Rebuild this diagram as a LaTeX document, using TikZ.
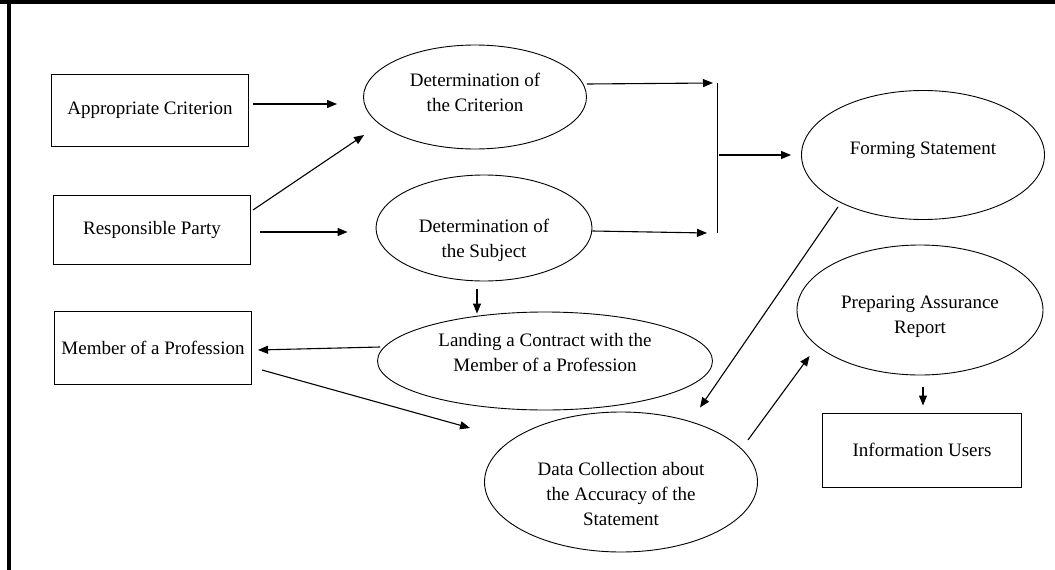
\documentclass[tikz,border=0pt]{standalone}
\usepackage{fontspec}
\setmainfont{Liberation Serif}
\usepackage{tikz}
\usepackage{xcolor}
\usetikzlibrary{shapes.geometric, arrows.meta}
\tikzstyle{party} = [rectangle, minimum width=197pt, minimum height=72pt, text centered, draw=black, line width=1pt]
\tikzstyle{stage} = [ellipse, inner sep=0pt, align=center, draw=black, line width=0.9pt]
\tikzstyle{arrow} = [line width=1.1pt, -{Triangle[length=10pt,width=8pt]}]
\newcommand{\padtop}[1]{\rule{0pt}{#1}}
\newcommand{\padbot}[1]{\rule[-#1]{0pt}{#1}}

\begin{document}
\begin{tikzpicture}[x=1pt, y=-1pt, font=\fontsize{19}{25}\selectfont]
    \useasboundingbox (0,0) rectangle (1055,570);
    \draw[line width=3.5pt] (0,1.75) -- (1055,1.75);
    \draw[line width=4pt] (9,0) -- (9,570);

    \node (party1) at (150,110) [party]{Appropriate Criterion};
    \node (party2) [party, below of=party1, node distance=120pt, xshift=2pt, minimum height=69pt]{Responsible Party};
    \node (party3) [party, below of=party2, node distance=118pt, xshift=1pt, minimum height=73pt]{Member of a Profession};
    \node (step1) [stage, right of=party1, node distance=325pt, yshift=13pt, minimum width=223pt, minimum height=104pt]{Determination of\\the Criterion\padbot{10pt}};
    \node (step2) [stage, right of=party2, node distance=332pt, yshift=2pt, minimum width=216pt, minimum height=106pt]{\padtop{39pt}Determination of\\the Subject};
    \node (step3) [stage, right of=party3, node distance=392pt, yshift=-13pt, minimum width=335pt, minimum height=98pt]{Landing a Contract with the\\Member of a Profession\padbot{18pt}};
    \node (step4) [stage, below of=step3, node distance=121pt, xshift=76pt, minimum width=273pt, minimum height=140pt]{\padtop{37pt}Data Collection about\\the Accuracy of the\\Statement};
    \node (step5) [stage, right of=step1, node distance=448pt, yshift=-58pt, minimum width=243pt, minimum height=129pt]{Forming Statement\padbot{14pt}};
    \node (step6) [stage, below of=step5, node distance=155pt, xshift=-3pt, minimum width=246pt, minimum height=130pt]{\padtop{27pt}Preparing Assurance\\Report};
    \node (party4) [party, below of=step6, node distance=140pt, xshift=2pt, minimum width=199pt, minimum height=74pt]{Information Users};

    \coordinate (join1) at (717,83);
    \coordinate (join2) at (717,233);
    \coordinate (join3) at (717,155);
    \draw[line width=1pt] (join1) -- (join2);

    \draw[arrow] ([xshift=4pt,yshift=6pt]party1.east) -- ([xshift=-26pt,yshift=-7pt]step1.west);
    \draw[arrow] ([xshift=2pt,yshift=20pt]party2.east) -- ([xshift=1pt,yshift=-38pt]step1.west);
    \draw[arrow] ([xshift=9pt,yshift=-2pt]party2.east) -- ([xshift=-28pt,yshift=-4pt]step2.west);
    \draw[arrow] ([yshift=13pt]step1.east) -- ([xshift=-4pt]join1);
    \draw[arrow] ([yshift=-3pt]step2.east) -- ([xshift=-10pt]join2);
    \draw[arrow] ([xshift=2pt]join3) -- ([xshift=-10pt]step5.west);
    \draw[arrow] ([xshift=-7pt,yshift=-8pt]step2.south) -- ([xshift=-68pt,yshift=-2pt]step3.north);
    \draw[arrow] ([xshift=3pt,yshift=14pt]step3.west) -- ([xshift=6pt,yshift=-2pt]party3.east);
    \draw[arrow] ([xshift=10pt,yshift=-22pt]party3.east) -- ([xshift=-14pt,yshift=54pt]step4.west);
    \draw[arrow] ([xshift=-85pt,yshift=13pt]step5.south) -- ([xshift=79pt,yshift=4pt]step4.north);
    \draw[arrow] ([xshift=-10pt,yshift=42pt]step4.east) -- ([xshift=13pt,yshift=-46pt]step6.west);
    \draw[arrow] ([xshift=3pt,yshift=-12pt]step6.south) -- ([xshift=1pt,yshift=7pt]party4.north);
\end{tikzpicture}
\end{document}
